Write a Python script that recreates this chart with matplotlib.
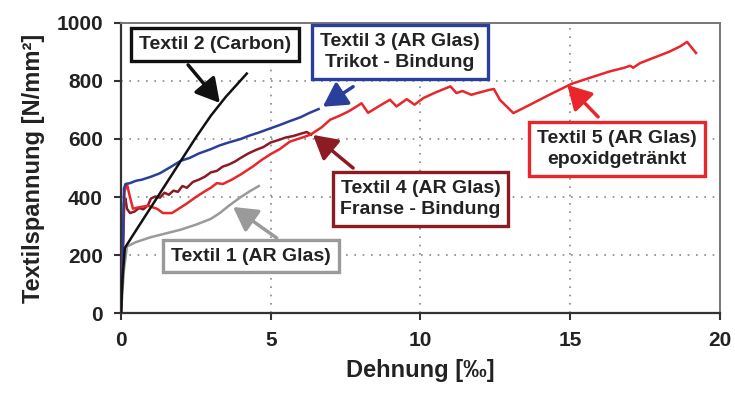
import matplotlib
matplotlib.use("Agg")
import matplotlib.pyplot as plt

plt.rcParams['font.family'] = ['Liberation Sans', 'DejaVu Sans']
plt.rcParams['font.weight'] = 'bold'

# Textil 1 (AR Glas) - gray
x1 = [0, 0.1, 0.2, 0.5, 1.0, 1.5, 2.0, 2.5, 3.0, 3.3, 3.6, 4.0, 4.3, 4.6]
y1 = [0, 150, 230, 245, 262, 275, 288, 305, 325, 345, 370, 400, 420, 438]

# Textil 2 (Carbon) - black
x2 = [0, 0.05, 0.13, 0.5, 1.0, 1.5, 2.0, 2.5, 3.0, 3.5, 4.2]
y2 = [0, 120, 225, 285, 365, 445, 525, 605, 680, 745, 825]

# Textil 3 (AR Glas) Trikot - Bindung - blue
x3 = [0, 0.05, 0.1, 0.15, 0.3, 0.5, 0.7, 1.0, 1.3, 1.6, 2.0, 2.3, 2.6, 3.0, 3.3,
      3.6, 4.0, 4.3, 4.6, 5.0, 5.3, 5.6, 6.0, 6.3, 6.6]
y3 = [0, 150, 430, 445, 448, 456, 460, 470, 482, 500, 525, 535, 550, 565, 578,
      588, 600, 612, 622, 637, 648, 660, 675, 690, 703]

# Textil 4 (AR Glas) Franse - Bindung - dark red
x4 = [0, 0.05, 0.1, 0.15, 0.2, 0.3, 0.45, 0.6, 0.75, 0.9, 1.0, 1.15, 1.3, 1.45,
      1.6, 1.75, 1.9, 2.05, 2.2, 2.4, 2.6, 2.8, 3.0, 3.2, 3.4, 3.6, 3.8, 4.0,
      4.25, 4.5, 4.75, 5.0, 5.25, 5.5, 5.75, 6.0, 6.2, 6.35]
y4 = [0, 200, 380, 395, 360, 345, 350, 362, 358, 372, 395, 402, 398, 415,
      408, 422, 418, 438, 432, 452, 460, 470, 485, 490, 505, 512, 522, 535,
      550, 562, 572, 588, 596, 605, 610, 618, 624, 615]

# Textil 5 (AR Glas) epoxidgetraenkt - red
x5 = [0, 0.05, 0.12, 0.2, 0.3, 0.4, 0.6, 0.9, 1.2, 1.4, 1.7, 1.9, 2.2, 2.5, 2.8,
      3.0, 3.2, 3.4, 3.7, 4.0, 4.4, 4.7, 5.0, 5.3, 5.64, 6.0, 6.31, 6.7, 6.98,
      7.3, 7.6, 7.87, 8.03, 8.25, 8.6, 8.98, 9.2, 9.54, 9.8, 10.1, 10.5, 11.0,
      11.2, 11.4, 11.7, 11.9, 12.3, 12.45, 12.65, 13.1, 13.66, 14.3, 15.05,
      15.7, 16.3, 16.8, 17.0, 17.1, 17.33, 17.8, 18.3, 18.66, 18.9, 19.2]
y5 = [0, 150, 420, 445, 400, 360, 365, 370, 360, 345, 345, 358, 378, 400, 420,
      432, 448, 445, 460, 478, 505, 528, 548, 565, 591, 603, 614, 640, 666,
      680, 695, 712, 723, 690, 712, 735, 712, 737, 718, 741, 760, 781,
      758, 765, 752, 758, 769, 772, 735, 689, 718, 752, 790,
      812, 832, 845, 852, 845, 861, 880, 900, 918, 934, 896]

x_ticks = [0, 5, 10, 15, 20]
y_ticks = [0, 200, 400, 600, 800, 1000]

c_gray = '#9a9a9a'
c_black = '#111111'
c_blue = '#2a3f9a'
c_dred = '#8b1c24'
c_red = '#e8262b'

fig = plt.figure(figsize=(7.35, 3.99), dpi=100)
ax = fig.add_axes([0.1646, 0.2148, 0.8150, 0.7282])

lw = 1.8
ax.plot(x1, y1, color=c_gray, lw=lw, zorder=3)
ax.plot(x4, y4, color=c_dred, lw=lw, zorder=3)
ax.plot(x5, y5, color=c_red, lw=lw, zorder=3)
ax.plot(x3, y3, color=c_blue, lw=lw, zorder=3)
ax.plot(x2, y2, color=c_black, lw=lw, zorder=4)

ax.set_xlim(0, 20)
ax.set_ylim(0, 1000)
ax.set_xticks(x_ticks)
ax.set_yticks(y_ticks)
ax.grid(True, color='#888888', linestyle=(0, (1, 4)), linewidth=1.2)
ax.tick_params(direction='out', length=5, width=1.5, color='#333333',
               labelsize=15, pad=8)
for lab in ax.get_xticklabels() + ax.get_yticklabels():
    lab.set_fontweight('bold')
    lab.set_color('#222222')
for side in ['left', 'bottom']:
    ax.spines[side].set_color('#333333')
    ax.spines[side].set_linewidth(1.6)
for side in ['top', 'right']:
    ax.spines[side].set_color('#777777')
    ax.spines[side].set_linewidth(1.4)

ax.set_xlabel('Dehnung [‰]', fontsize=17, fontweight='bold', color='#222222', labelpad=6)
ax.set_ylabel('Textilspannung [N/mm²]', fontsize=17, fontweight='bold', color='#222222', labelpad=8)

def label(text, pos, tail, head, color):
    ax.annotate('', xy=head, xytext=tail,
                arrowprops=dict(arrowstyle='-|>,head_length=0.8,head_width=0.45',
                                mutation_scale=18,
                                color=color, lw=2.5, shrinkA=0, shrinkB=0),
                zorder=5)
    ax.text(pos[0], pos[1], text, ha='center', va='center', fontsize=14,
            fontweight='bold', color='#222222', linespacing=1.35, zorder=6,
            bbox=dict(boxstyle='square,pad=0.4', fc='white', ec=color, lw=2.4))

label('Textil 2 (Carbon)', (3.14, 925), (2.24, 855), (3.3, 724), c_black)
label('Textil 3 (AR Glas)\nTrikot - Bindung', (9.32, 900), (7.75, 780), (6.74, 711), c_blue)
label('Textil 4 (AR Glas)\nFranse - Bindung', (10.0, 394), (7.75, 500), (6.41, 614), c_dred)
label('Textil 5 (AR Glas)\nepoxidgetränkt', (16.56, 566), (15.93, 676), (14.9, 786), c_red)
label('Textil 1 (AR Glas)', (4.34, 197), (5.2, 259), (3.74, 366), c_gray)

fig.savefig('out.png', dpi=100)
